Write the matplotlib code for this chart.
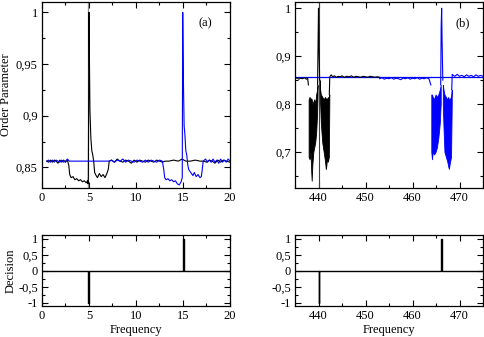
import matplotlib
matplotlib.use('Agg')
import matplotlib.pyplot as plt
from matplotlib.ticker import MultipleLocator, FuncFormatter, AutoMinorLocator
import numpy as np

# ---- panel (a): order parameter, low frequency sweep ----
a_black_f = [0.5, 0.7, 0.9, 1.1, 1.3, 1.5, 1.7, 1.9, 2.1, 2.3, 2.5, 2.7, 2.85, 2.95,
             3.1, 3.3, 3.5, 3.7, 3.9, 4.1, 4.3, 4.5, 4.7, 4.85, 4.9, 4.93,
             5.0, 5.05, 5.1, 5.2, 5.3, 5.4, 5.5, 5.6, 5.7, 5.9, 6.1, 6.3, 6.5, 6.7, 6.9,
             7.05, 7.15, 7.4, 7.7, 8.0, 8.3, 8.6, 8.9, 9.2, 9.5, 9.8, 10.1, 10.4, 10.7,
             11.0, 11.3, 11.6, 11.9, 12.2, 12.5, 12.8, 13.1, 13.5, 14.0, 14.5, 14.9,
             15.3, 15.8, 16.3, 16.8, 17.2, 17.5, 17.8, 18.1, 18.4, 18.7, 19.0, 19.3,
             19.6, 20.0]
a_black_op = [0.856, 0.855, 0.857, 0.855, 0.857, 0.856, 0.854, 0.857, 0.855, 0.857, 0.855, 0.857, 0.852, 0.843,
              0.840, 0.841, 0.838, 0.839, 0.837, 0.838, 0.836, 0.837, 0.835, 0.837, 0.834, 0.840,
              1.000, 0.950, 0.905, 0.878, 0.866, 0.862, 0.856, 0.845, 0.843, 0.840, 0.844, 0.841, 0.843, 0.840, 0.844,
              0.848, 0.856, 0.857, 0.855, 0.858, 0.856, 0.855, 0.857, 0.856, 0.854, 0.857, 0.855, 0.857, 0.856,
              0.855, 0.857, 0.856, 0.855, 0.857, 0.856, 0.855, 0.856, 0.856, 0.857, 0.856, 0.858,
              0.856, 0.856, 0.857, 0.856, 0.856, 0.855, 0.857, 0.856, 0.854, 0.857, 0.855, 0.857,
              0.856, 0.855]

a_blue_f = [0.5, 0.7, 0.9, 1.1, 1.3, 1.5, 1.7, 1.9, 2.1, 2.3, 2.5, 2.7, 2.9, 3.2,
            7.2, 7.4, 7.7, 8.0, 8.3, 8.6, 8.9, 9.2, 9.5, 9.8, 10.1, 10.4, 10.7, 11.0,
            11.3, 11.6, 11.9, 12.2, 12.5, 12.8, 12.95, 13.05, 13.2, 13.4, 13.6, 13.8,
            14.0, 14.2, 14.4, 14.6, 14.8, 14.92, 14.97, 15.05, 15.12, 15.2, 15.3, 15.4,
            15.5, 15.6, 15.75, 15.9, 16.05, 16.2, 16.4, 16.6, 16.8, 16.95, 17.05, 17.15,
            17.4, 17.6, 17.8, 18.0, 18.2, 18.4, 18.6, 18.8, 19.0, 19.2, 19.4, 19.6, 19.8, 20.0]
a_blue_op = [0.856, 0.857, 0.855, 0.857, 0.855, 0.857, 0.856, 0.855, 0.857, 0.855, 0.856, 0.858, 0.856, 0.856,
             0.856, 0.857, 0.855, 0.857, 0.856, 0.858, 0.855, 0.857, 0.856, 0.855, 0.857, 0.856, 0.855, 0.857,
             0.855, 0.857, 0.856, 0.855, 0.857, 0.856, 0.848, 0.840, 0.838, 0.839, 0.837, 0.838,
             0.836, 0.837, 0.834, 0.833, 0.836, 0.840, 1.000, 0.930, 0.890, 0.882, 0.866, 0.862,
             0.853, 0.848, 0.846, 0.844, 0.842, 0.845, 0.841, 0.843, 0.840, 0.841, 0.848, 0.856,
             0.858, 0.855, 0.857, 0.855, 0.858, 0.855, 0.857, 0.854, 0.858, 0.855, 0.857, 0.855, 0.858, 0.856]
a_marker_f = 4.9

# ---- panel (b): order parameter, high frequency sweep ----
b_black_f = [435.0, 435.4, 435.8, 436.2, 436.6, 437.0, 437.4, 437.7, 437.85,
             439.8, 439.95, 440.0, 440.1, 440.25,
             442.3, 442.4, 442.7, 443.0, 443.4, 443.8, 444.2, 444.6, 445.0, 445.5,
             446.0, 446.5, 447.0, 447.5, 448.0, 448.5, 449.0, 449.5, 450.0, 450.5,
             451.0, 451.5, 452.0, 452.5, 453.0]
b_black_op = [0.853, 0.855, 0.852, 0.854, 0.853, 0.855, 0.852, 0.854, 0.840,
              0.840, 0.960, 1.000, 0.920, 0.850,
              0.820, 0.857, 0.861, 0.857, 0.859, 0.856, 0.858, 0.857, 0.859, 0.856,
              0.858, 0.857, 0.859, 0.856, 0.858, 0.857, 0.856, 0.858, 0.857, 0.856,
              0.858, 0.857, 0.856, 0.857, 0.856]
# envelopes of the fast oscillation (black)
b_black_band1_f = [437.9, 438.1, 438.3, 438.45, 438.55, 438.7, 438.9, 439.1, 439.3, 439.5, 439.7, 439.8]
b_black_band1_lo = [0.69, 0.685, 0.70, 0.66, 0.64, 0.675, 0.70, 0.71, 0.72, 0.74, 0.78, 0.82]
b_black_band1_hi = [0.81, 0.815, 0.81, 0.812, 0.81, 0.80, 0.805, 0.81, 0.80, 0.82, 0.83, 0.84]
b_black_band2_f = [440.25, 440.35, 440.5, 440.8, 441.1, 441.4, 441.55, 441.65, 441.8, 442.0, 442.2, 442.3]
b_black_band2_lo = [0.83, 0.80, 0.76, 0.72, 0.70, 0.68, 0.665, 0.67, 0.685, 0.68, 0.69, 0.80]
b_black_band2_hi = [0.85, 0.83, 0.82, 0.815, 0.81, 0.815, 0.81, 0.812, 0.81, 0.815, 0.81, 0.82]

b_blue_f = [453.0, 453.5, 454.0, 454.5, 455.0, 455.5, 456.0, 456.5, 457.0, 457.5, 458.0,
            458.5, 459.0, 459.5, 460.0, 460.5, 461.0, 461.5, 462.0, 462.5, 463.0, 463.5, 463.9,
            466.0, 466.1, 466.2, 466.3, 466.45,
            468.35, 468.45, 468.7, 469.0, 469.5, 470.0, 470.5, 471.0, 471.5, 472.0, 472.5,
            473.0, 473.5, 474.0, 474.5, 475.0]
b_blue_op = [0.853, 0.855, 0.852, 0.854, 0.853, 0.855, 0.852, 0.854, 0.853, 0.851, 0.854,
             0.853, 0.855, 0.852, 0.854, 0.853, 0.855, 0.852, 0.854, 0.853, 0.855, 0.853, 0.840,
             0.840, 0.960, 1.000, 0.930, 0.850,
             0.830, 0.862, 0.860, 0.858, 0.862, 0.858, 0.860, 0.857, 0.861, 0.858, 0.860,
             0.857, 0.861, 0.858, 0.860, 0.858]
b_blue_band1_f = [464.0, 464.15, 464.3, 464.6, 464.9, 465.2, 465.5, 465.8, 466.0]
b_blue_band1_lo = [0.70, 0.685, 0.70, 0.695, 0.70, 0.71, 0.73, 0.76, 0.80]
b_blue_band1_hi = [0.82, 0.82, 0.815, 0.81, 0.82, 0.815, 0.82, 0.83, 0.84]
b_blue_band2_f = [466.45, 466.6, 466.8, 467.1, 467.4, 467.6, 467.75, 467.9, 468.2, 468.35]
b_blue_band2_lo = [0.80, 0.75, 0.70, 0.69, 0.68, 0.67, 0.665, 0.675, 0.69, 0.80]
b_blue_band2_hi = [0.84, 0.83, 0.82, 0.815, 0.81, 0.815, 0.81, 0.81, 0.815, 0.83]
b_ref_level = 0.856
b_marker_f = 440.0

# ---- decision panels ----
dec_a_f = [0.0, 4.85, 4.85, 5.05, 5.05, 14.98, 14.98, 15.08, 15.08, 20.0]
dec_a_val = [0, 0, -1, -1, 0, 0, 1, 1, 0, 0]
dec_b_f = [435.0, 440.0, 440.0, 440.15, 440.15, 466.1, 466.1, 466.25, 466.25, 475.0]
dec_b_val = [0, 0, -1, -1, 0, 0, 1, 1, 0, 0]

plt.rcParams['font.family'] = ['Liberation Serif', 'DejaVu Serif']
plt.rcParams['font.size'] = 9

BLUE = '#0000ff'
comma = FuncFormatter(lambda v, p: '{:g}'.format(round(v, 4)).replace('.', ','))


def style(ax):
    ax.tick_params(which='both', direction='in', top=True, right=True, labelsize=9, pad=3)
    ax.tick_params(which='major', length=4.5, width=0.8)
    ax.tick_params(which='minor', length=2.5, width=0.8)
    for s in ax.spines.values():
        s.set_linewidth(0.9)
    ax.yaxis.set_major_formatter(comma)


fig = plt.figure(figsize=(4.85, 3.37), dpi=100)
W = 188 / 485.
axa = fig.add_axes([42 / 485., 149 / 337., W, 186 / 337.])
axb = fig.add_axes([295 / 485., 149 / 337., W, 186 / 337.])
axc = fig.add_axes([42 / 485., 31 / 337., W, 71 / 337.])
axd = fig.add_axes([295 / 485., 31 / 337., W, 71 / 337.])

# (a)
axa.axvline(a_marker_f, color='0.55', lw=0.9)
axa.plot(a_black_f, a_black_op, color='black', lw=0.8)
axa.plot(a_blue_f, a_blue_op, color=BLUE, lw=0.8)
axa.set_xlim(0, 20)
axa.set_ylim(0.83, 1.01)
axa.xaxis.set_major_locator(MultipleLocator(5))
axa.xaxis.set_minor_locator(MultipleLocator(2.5))
axa.yaxis.set_major_locator(MultipleLocator(0.05))
axa.yaxis.set_minor_locator(MultipleLocator(0.025))
axa.set_ylabel('Order Parameter', labelpad=3)
axa.text(0.87, 0.885, '(a)', transform=axa.transAxes, ha='center', va='center')
style(axa)

# (b)
axb.axhline(b_ref_level, color=BLUE, lw=0.9)
axb.axvline(b_marker_f, color='0.25', lw=0.8)
axb.fill_between(b_black_band1_f, b_black_band1_lo, b_black_band1_hi, color='black', lw=0.6)
axb.fill_between(b_black_band2_f, b_black_band2_lo, b_black_band2_hi, color='black', lw=0.6)
axb.plot(b_black_f[:9], b_black_op[:9], color='black', lw=0.8)
axb.plot(b_black_f[9:14], b_black_op[9:14], color='black', lw=0.8)
axb.plot(b_black_f[14:], b_black_op[14:], color='black', lw=0.8)
axb.fill_between(b_blue_band1_f, b_blue_band1_lo, b_blue_band1_hi, color=BLUE, lw=0.6)
axb.fill_between(b_blue_band2_f, b_blue_band2_lo, b_blue_band2_hi, color=BLUE, lw=0.6)
axb.plot(b_blue_f[:23], b_blue_op[:23], color=BLUE, lw=0.8)
axb.plot(b_blue_f[23:28], b_blue_op[23:28], color=BLUE, lw=0.8)
axb.plot(b_blue_f[28:], b_blue_op[28:], color=BLUE, lw=0.8)
axb.set_xlim(435, 475)
axb.set_ylim(0.625, 1.013)
axb.xaxis.set_major_locator(MultipleLocator(10))
axb.xaxis.set_minor_locator(MultipleLocator(5))
axb.yaxis.set_major_locator(MultipleLocator(0.1))
axb.yaxis.set_minor_locator(MultipleLocator(0.05))
axb.text(0.894, 0.885, '(b)', transform=axb.transAxes, ha='center', va='center')
style(axb)

# decision panels
axc.plot(dec_a_f, dec_a_val, color='black', lw=1.0)
axc.set_xlim(0, 20)
axc.xaxis.set_major_locator(MultipleLocator(5))
axc.xaxis.set_minor_locator(MultipleLocator(2.5))
axc.set_ylabel('Decision', labelpad=1)

axd.plot(dec_b_f, dec_b_val, color='black', lw=1.0)
axd.set_xlim(435, 475)
axd.xaxis.set_major_locator(MultipleLocator(10))
axd.xaxis.set_minor_locator(MultipleLocator(5))

for ax in (axc, axd):
    ax.set_ylim(-1.1, 1.12)
    ax.yaxis.set_major_locator(MultipleLocator(0.5))
    ax.yaxis.set_minor_locator(MultipleLocator(0.25))
    ax.set_xlabel('Frequency', labelpad=1)
    style(ax)

fig.savefig('out.png', dpi=100)
